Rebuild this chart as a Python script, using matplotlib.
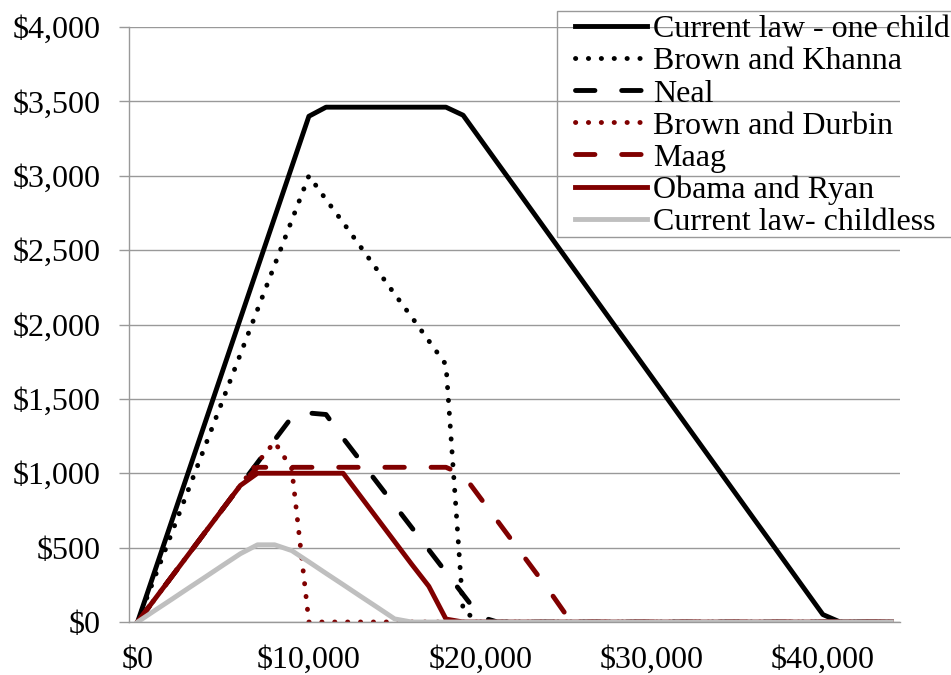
import matplotlib
matplotlib.use("Agg")
import matplotlib.pyplot as plt
from matplotlib.patches import Rectangle
from matplotlib.ticker import FuncFormatter

plt.rcParams["font.family"] = ["Liberation Serif", "DejaVu Serif"]

# income categories, one every $1,000
incomes = list(range(0, 45000, 1000))

current_one_child = [0, 340, 680, 1020, 1360, 1700, 2040, 2380, 2720, 3060, 3400,
                     3461, 3461, 3461, 3461, 3461, 3461, 3461, 3461,
                     3407, 3247, 3087, 2928, 2768, 2608, 2448, 2288, 2128, 1968, 1809,
                     1649, 1489, 1329, 1169, 1009, 849, 689, 530, 370, 210, 50,
                     0, 0, 0, 0]
brown_khanna = [0, 300, 600, 900, 1200, 1500, 1800, 2100, 2400, 2700, 3000,
                2840, 2685, 2525, 2365, 2205, 2050, 1890, 1730, 75] + [0] * 25
neal = [0, 153, 306, 459, 612, 765, 918, 1071, 1224, 1377, 1405, 1395,
        1235, 1085, 935, 785, 635, 485, 335, 185, 35] + [0] * 24
brown_durbin = [0, 153, 306, 459, 612, 765, 918, 1071, 1210, 1030] + [0] * 35
maag = [0, 153, 306, 459, 612, 765, 918,
        1040, 1040, 1040, 1040, 1040, 1040, 1040, 1040, 1040, 1040, 1040, 1040,
        990, 835, 680, 525, 370, 215, 50] + [0] * 19
obama_ryan = [0, 153, 306, 459, 612, 765, 918,
              1000, 1000, 1000, 1000, 1000, 1000,
              847, 694, 541, 388, 240, 20] + [0] * 26
current_childless = [0, 77, 153, 230, 306, 383, 459, 519, 519, 480, 404, 327,
                     251, 174, 98, 21] + [0] * 29

RED = "#800000"
GREY_LINE = "#bfbfbf"
AXIS_GREY = "#999999"
FS = 23

W, H = 951, 675
fig = plt.figure(figsize=(W / 100, H / 100), dpi=100)
ax = fig.add_axes([129 / W, 53 / H, 771 / W, 595 / H])

dot = dict(linestyle=(0, (0.05, 2.6)), dash_capstyle="round")
dash = dict(linestyle=(0, (4, 5.5)), dash_capstyle="round")
lw = 3.5

ax.plot(incomes, current_one_child, color="black", lw=lw,
        solid_joinstyle="round", label="Current law - one child")
ax.plot(incomes, brown_khanna, color="black", lw=lw, label="Brown and Khanna", **dot)
ax.plot(incomes, neal, color="black", lw=lw, label="Neal", **dash)
ax.plot(incomes, brown_durbin, color=RED, lw=lw, label="Brown and Durbin", **dot)
ax.plot(incomes, maag, color=RED, lw=lw, label="Maag", **dash)
ax.plot(incomes, obama_ryan, color=RED, lw=lw, label="Obama and Ryan")
ax.plot(incomes, current_childless, color=GREY_LINE, lw=lw,
        label="Current law- childless")

ax.set_xlim(-500, 44500)
ax.set_ylim(0, 4000)

money = FuncFormatter(lambda v, _: f"${v:,.0f}")
ax.set_xticks(range(0, 45000, 10000))
ax.set_yticks(range(0, 4001, 500))
ax.xaxis.set_major_formatter(money)
ax.yaxis.set_major_formatter(money)
ax.tick_params(axis="x", length=0, pad=17, labelsize=FS)
ax.tick_params(axis="y", length=7.2, width=1, color=AXIS_GREY, pad=13.5, labelsize=FS)

ax.yaxis.grid(True, color=AXIS_GREY, lw=1)
ax.set_axisbelow(True)
for side in ("top", "right"):
    ax.spines[side].set_visible(False)
for side in ("left", "bottom"):
    ax.spines[side].set_color(AXIS_GREY)
    ax.spines[side].set_linewidth(1)

leg = ax.legend(loc="upper left", bbox_to_anchor=(575 / W, 1 - 15 / H),
                bbox_transform=fig.transFigure, frameon=False, fontsize=FS,
                borderpad=0, borderaxespad=0, handlelength=2.25,
                handletextpad=0.2, labelspacing=0.085)
fig.patches.append(Rectangle((557 / W, 1 - 237 / H), 400 / W, 226 / H,
                             transform=fig.transFigure, fill=False,
                             edgecolor=AXIS_GREY, lw=1))

fig.savefig("out.png", dpi=100)
